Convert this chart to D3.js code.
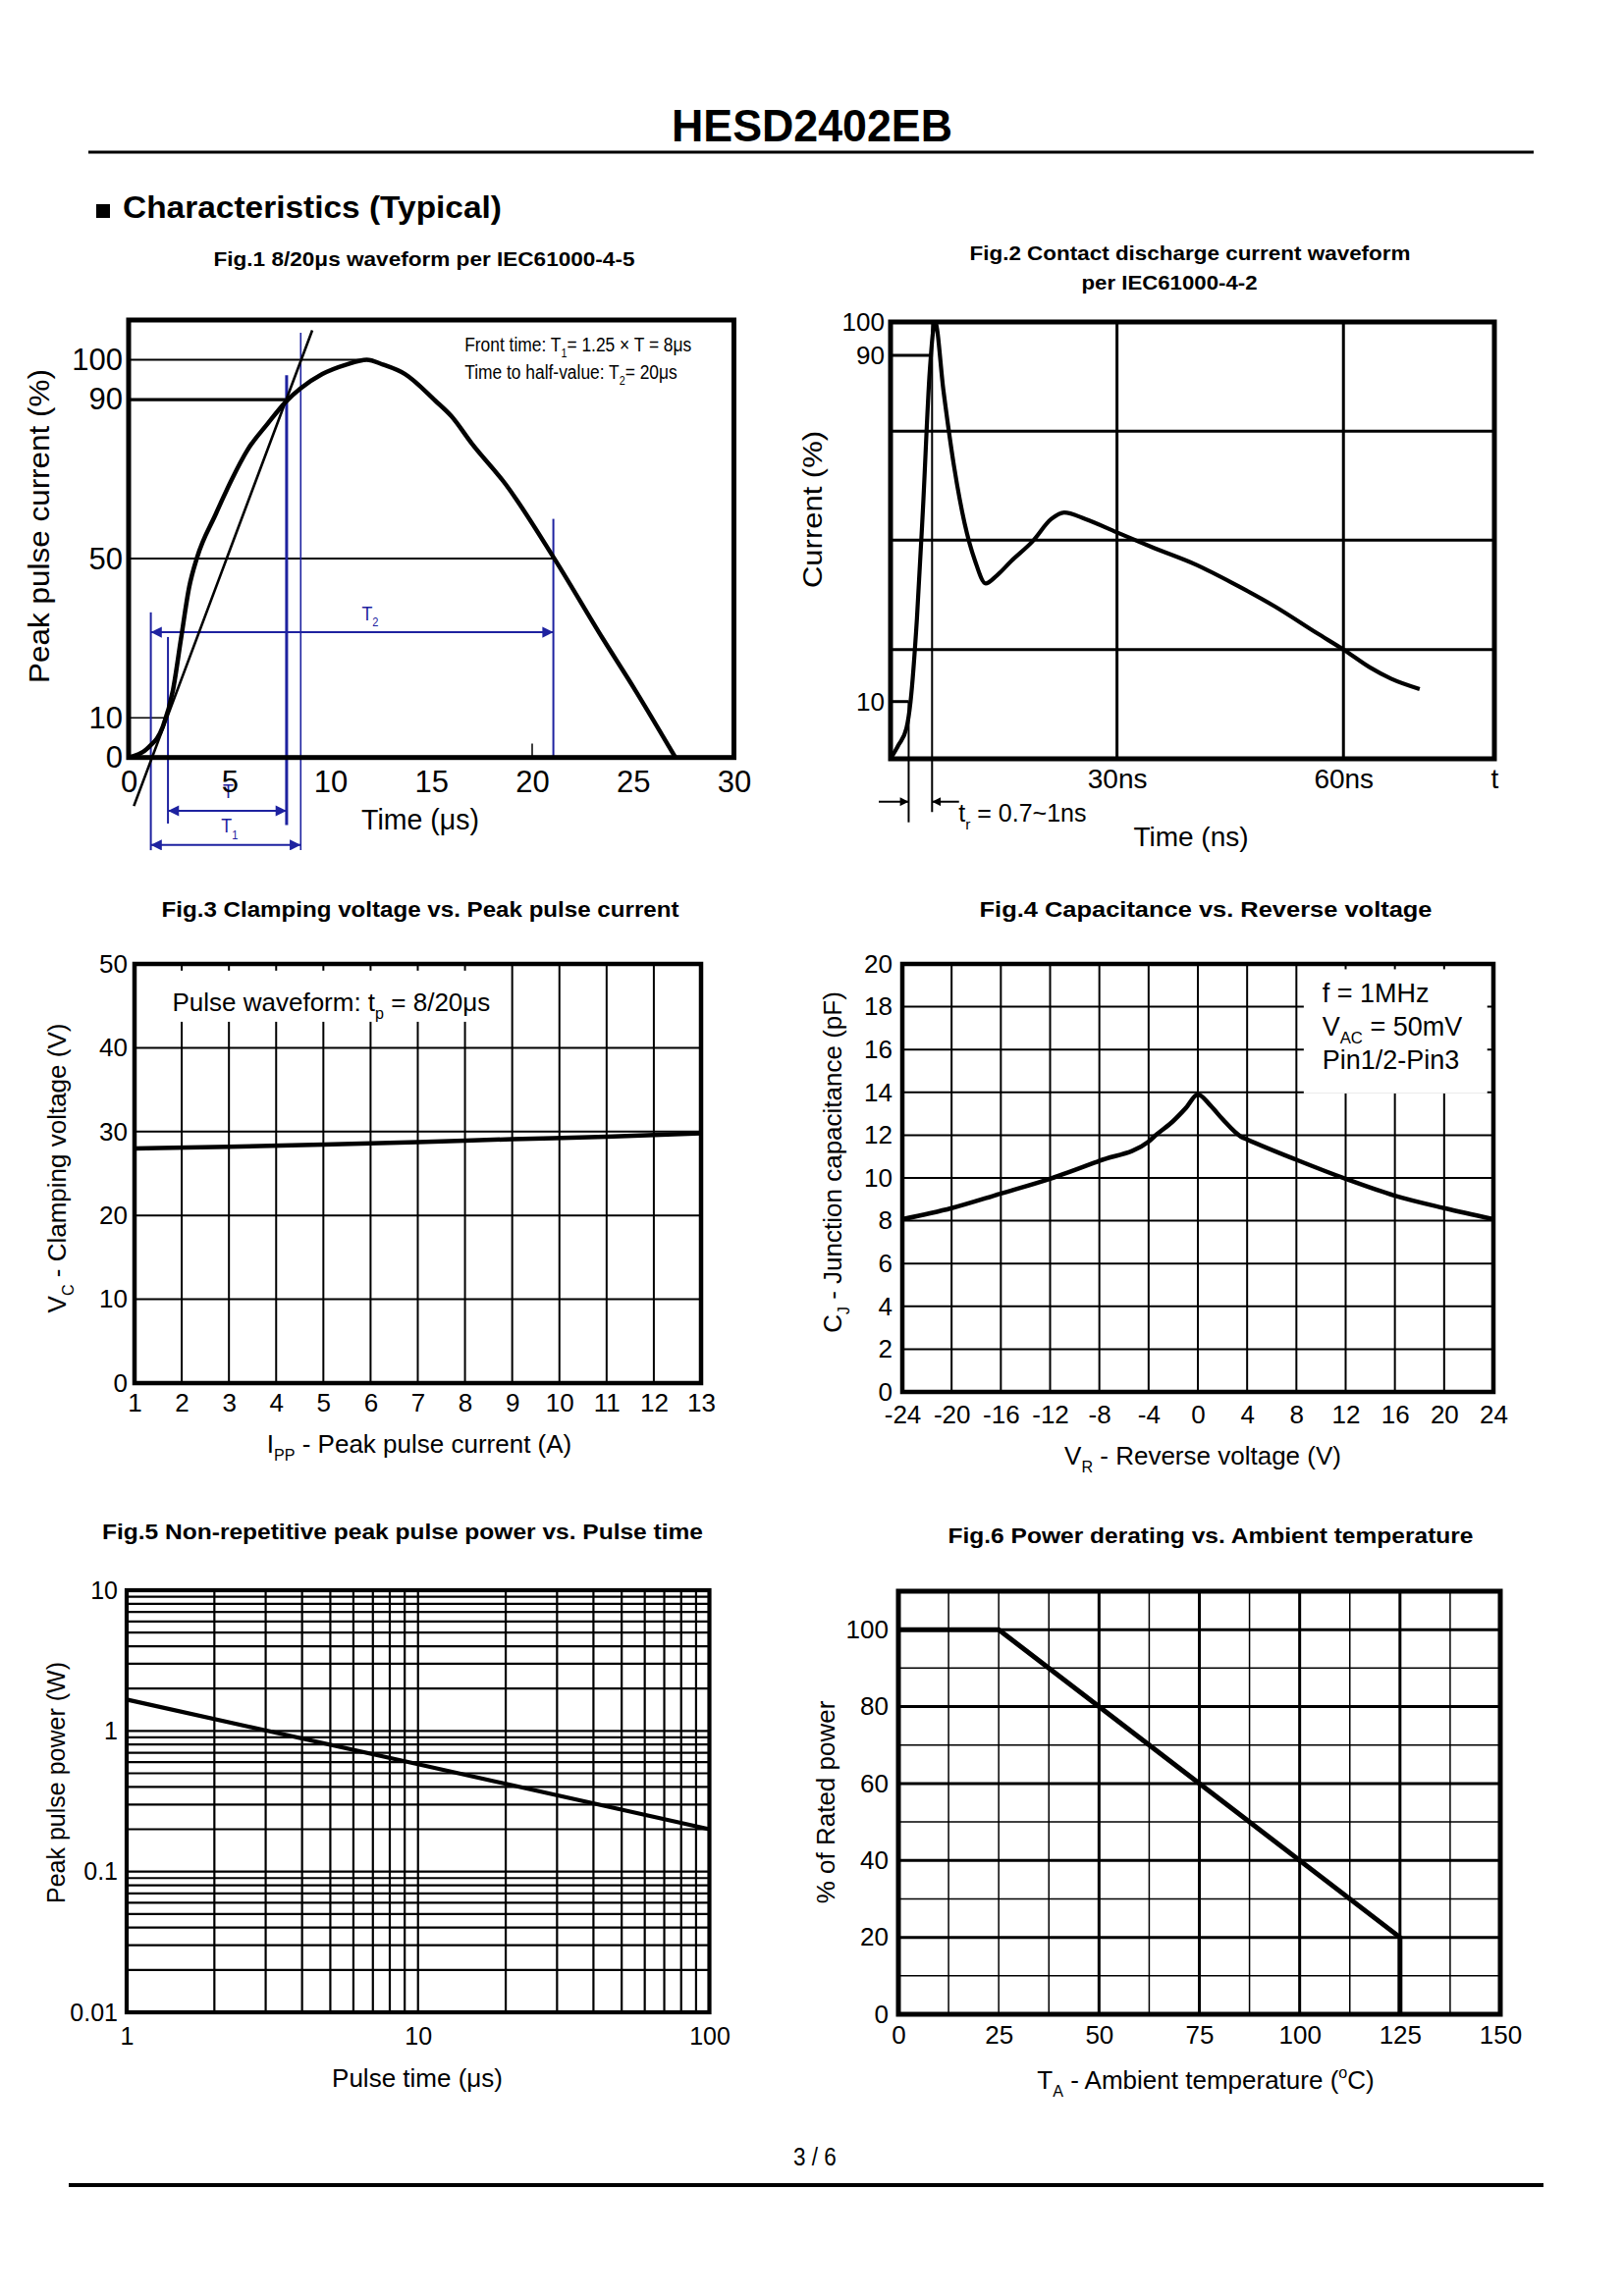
<!DOCTYPE html>
<html>
<head>
<meta charset="utf-8">
<script src="https://cdnjs.cloudflare.com/ajax/libs/d3/7.8.5/d3.min.js"></script>
<style>
body { margin: 0; background: #fff; }
</style>
</head>
<body>
<div id="page"></div>
<script>
// ---------- Fig.1 8/20us waveform ----------
const fig1Time = [0, 1.0, 1.7, 2.2, 2.6, 3.0, 3.4, 4.3, 5.1, 5.9, 6.9, 7.8, 8.5, 9.6, 10.8, 11.8, 12.6, 13.7, 15.2, 16, 17, 18.7, 21.1, 23.5, 25.1, 27.1];
const fig1Current = [0, 2.6, 7.8, 17, 30, 42.8, 50.4, 61, 69.8, 77.4, 84, 89.5, 92.7, 96.4, 98.8, 100, 98.8, 96.4, 89.7, 85.8, 79, 68.6, 50, 29.9, 17, 0];
const fig1XTicks = [0, 5, 10, 15, 20, 25, 30];
const fig1YTicks = [0, 10, 50, 90, 100];
const fig1RefLevel = [100, 90, 50, 10];
const fig1RefEnd = [11.8, 7.8, 21.1, 1.9];
const fig1FrontT = [0.26, 9.1];
const fig1FrontI = [-12.2, 107.4];
const fig1MarkT = [1.1, 1.95, 7.83, 8.53, 21.05];
const fig1MarkTop = [36.5, 30.3, 96.1, 106.8, 60];
const fig1MarkBottom = [-23.3, -16.6, -17, -23.3, 0];
const fig1SpanFrom = [1.1, 1.95, 1.1];
const fig1SpanTo = [21.05, 7.83, 8.53];
const fig1SpanLevel = [31.5, -13.4, -22];
const fig1SpanSub = ["2", "", "1"];
const fig1SpanLabelT = [11.97, 4.94, 5.0];
const fig1SpanLabelI = [34.6, -10.3, -18.9];

// ---------- Fig.2 contact discharge ----------
const fig2Time = [0, 1.05, 2.1, 2.65, 3.5, 4.3, 5.2, 5.9, 7.0, 8.4, 9.8, 11.2, 12.6, 14, 16, 18.8, 21.3, 23, 25.8, 30, 34.9, 40.5, 45.4, 50.9, 56.5, 60.2, 63.5, 66.3, 70.1];
const fig2Current = [0, 2.4, 5.3, 10, 29.3, 54.8, 86.5, 100, 82, 64.5, 51.3, 42.5, 37.3, 39, 42.5, 47, 52.2, 53.7, 52.2, 49.1, 45.5, 41.6, 37.3, 32, 25.8, 21.8, 17.9, 15.3, 12.9];
const fig2YTicks = [10, 90, 100];
const fig2XTicks = [30, 60, 80];
const fig2GridT = [30, 60];
const fig2GridI = [22, 47.3, 72.5];
const fig2LevelI = [90, 10];
const fig2LevelEnd = [5.5, 2.4];
const fig2RiseT = [2.4, 5.5];
const fig2RiseTop = [10, 100];
const fig2RiseBottom = [-11.1, -9.3];

// ---------- Fig.3 clamping voltage ----------
const fig3Ipp = [1, 3, 5, 7, 9, 11, 13];
const fig3Vc = [28.0, 28.2, 28.45, 28.75, 29.1, 29.4, 29.8];
const fig3XTicks = [1, 2, 3, 4, 5, 6, 7, 8, 9, 10, 11, 12, 13];
const fig3YTicks = [0, 10, 20, 30, 40, 50];

// ---------- Fig.4 capacitance ----------
const fig4Vr = [-24, -20, -16, -12, -8, -4, -3.5, -2, -1, 0, 1, 2, 3.5, 4, 8, 12, 16, 20, 24];
const fig4Cj = [8.07, 8.59, 9.27, 9.96, 10.8, 11.7, 11.96, 12.66, 13.25, 13.9, 13.4, 12.75, 11.93, 11.8, 10.85, 9.96, 9.17, 8.59, 8.07];
const fig4XTicks = [-24, -20, -16, -12, -8, -4, 0, 4, 8, 12, 16, 20, 24];
const fig4YTicks = [0, 2, 4, 6, 8, 10, 12, 14, 16, 18, 20];

// ---------- Fig.5 peak pulse power ----------
const fig5Tp = [1, 10, 100];
const fig5Ppk = [1.67, 0.58, 0.2];
const fig5XTicks = [1, 10, 100];
const fig5YTicks = [0.01, 0.1, 1, 10];
const fig5GridT = [2, 3, 4, 5, 6, 7, 8, 9, 10, 20, 30, 40, 50, 60, 70, 80, 90];
const fig5GridP = [0.02, 0.03, 0.04, 0.05, 0.06, 0.07, 0.08, 0.09, 0.1, 0.2, 0.3, 0.4, 0.5, 0.6, 0.7, 0.8, 0.9, 1, 2, 3, 4, 5, 6, 7, 8, 9];

// ---------- Fig.6 power derating ----------
const fig6Ta = [0, 25, 125, 125];
const fig6Pct = [100, 100, 20, 0];
const fig6XTicks = [0, 25, 50, 75, 100, 125, 150];
const fig6YTicks = [0, 20, 40, 60, 80, 100];
const fig6GridT = [12.5, 25, 37.5, 50, 62.5, 75, 87.5, 100, 112.5, 125, 137.5];
const fig6GridP = [10, 20, 30, 40, 50, 60, 70, 80, 90, 100];
const fig6MajorT = [50, 75, 100, 125];
const fig6MajorP = [20, 40, 60, 80, 100];

// ---------- drawing ----------
const F = '"Liberation Sans", Arial, Helvetica, sans-serif';
const FN = '"Liberation Sans Narrow", "Arial Narrow", "Liberation Sans", Arial, sans-serif';
const BLUE = "#1e22a0";

const svg = d3.select("#page").append("svg")
    .attr("width", 1654).attr("height", 2339)
    .attr("font-family", F);
svg.append("rect").attr("width", 1654).attr("height", 2339).attr("fill", "#fff");

const defs = svg.append("defs");
function arrowMarker(id, color, size) {
    defs.append("marker").attr("id", id)
        .attr("viewBox", "0 0 10 10").attr("refX", 10).attr("refY", 5)
        .attr("markerUnits", "userSpaceOnUse")
        .attr("markerWidth", size).attr("markerHeight", size * 0.8)
        .attr("orient", "auto-start-reverse")
        .append("path").attr("d", "M0,0L10,5L0,10Z").attr("fill", color);
}
arrowMarker("arrBlue", BLUE, 14);
arrowMarker("arrBlack", "#000", 11);

// text with sub/superscripts, parts = [[text, kind]]
function rich(sel, parts, size) {
    let off = 0;
    parts.forEach(([t, kind]) => {
        const target = kind === "sub" ? size * 0.3 : kind === "sup" ? -size * 0.42 : 0;
        sel.append("tspan").attr("dy", target - off)
            .attr("font-size", kind ? size * 0.62 : size).text(t);
        off = target;
    });
    return sel;
}

function label(g, x, y, parts, size, opts = {}) {
    let tr = `translate(${x},${y})`;
    if (opts.rotate) tr += " rotate(-90)";
    if (opts.sx) tr += ` scale(${opts.sx},1)`;
    const t = g.append("text")
        .attr("transform", tr)
        .attr("text-anchor", opts.anchor || "middle")
        .attr("font-size", size)
        .attr("font-family", opts.family || F)
        .attr("font-weight", opts.bold ? "bold" : null)
        .attr("fill", opts.color || "#000");
    if (opts.len) t.attr("textLength", opts.len).attr("lengthAdjust", "spacingAndGlyphs");
    rich(t, parts, size);
    return t;
}

function axis(g, gen, tx, ty, size, family) {
    const a = g.append("g").attr("transform", `translate(${tx},${ty})`).call(gen);
    a.select(".domain").remove();
    a.selectAll(".tick line").remove();
    a.attr("font-size", size).attr("font-family", family || F);
    return a;
}

// ends of a (possibly piecewise) scale range
function ends(s) { const r = s.range(); return [r[0], r[r.length - 1]]; }

function frame(g, x, y, w) {
    const [a, b] = ends(x), [c, d] = ends(y);
    g.append("rect").attr("x", Math.min(a, b)).attr("y", Math.min(c, d))
        .attr("width", Math.abs(b - a)).attr("height", Math.abs(c - d))
        .attr("fill", "none").attr("stroke", "#000").attr("stroke-width", w);
}

function vGrid(g, x, y, vals, w) {
    const [y0, y1] = ends(y);
    g.append("g").selectAll("line").data(vals).join("line")
        .attr("x1", d => x(d)).attr("x2", d => x(d))
        .attr("y1", y0).attr("y2", y1)
        .attr("stroke", "#000").attr("stroke-width", typeof w === "function" ? w : () => w);
}
function hGrid(g, x, y, vals, w) {
    const [x0, x1] = ends(x);
    g.append("g").selectAll("line").data(vals).join("line")
        .attr("y1", d => y(d)).attr("y2", d => y(d))
        .attr("x1", x0).attr("x2", x1)
        .attr("stroke", "#000").attr("stroke-width", typeof w === "function" ? w : () => w);
}

function curve(g, x, y, xs, ys, w, c) {
    const pts = xs.map((v, i) => [v, ys[i]]);
    g.append("path").datum(pts)
        .attr("d", d3.line().x(d => x(d[0])).y(d => y(d[1])).curve(c || d3.curveLinear))
        .attr("fill", "none").attr("stroke", "#000").attr("stroke-width", w)
        .attr("stroke-linejoin", "round").attr("stroke-linecap", "butt");
}

const plain = d => String(d);

// ---------- page header / footer ----------
label(svg, 827, 144, [["HESD2402EB"]], 46, { bold: true, len: 286 });
svg.append("line").attr("x1", 90).attr("x2", 1562).attr("y1", 155).attr("y2", 155)
    .attr("stroke", "#000").attr("stroke-width", 3);
svg.append("rect").attr("x", 98).attr("y", 208).attr("width", 14).attr("height", 14).attr("fill", "#000");
label(svg, 125, 222, [["Characteristics (Typical)"]], 32, { bold: true, anchor: "start", len: 386 });
label(svg, 830, 2206, [["3 / 6"]], 25, { sx: 0.9 });
svg.append("line").attr("x1", 70).attr("x2", 1572).attr("y1", 2226).attr("y2", 2226)
    .attr("stroke", "#000").attr("stroke-width", 4);

// ---------- Fig.1 ----------
{
    const g = svg.append("g");
    const x = d3.scaleLinear().domain([0, 30]).range([131, 747.5]);
    const y = d3.scaleLinear().domain([0, 110]).range([771.7, 326]);
    label(g, 432, 271, [["Fig.1 8/20μs waveform per IEC61000-4-5"]], 21, { bold: true, family: FN, len: 429 });

    const refW = [2, 3.2, 2, 1.5];
    g.append("g").selectAll("line").data(fig1RefLevel).join("line")
        .attr("x1", x(0)).attr("x2", (d, i) => x(fig1RefEnd[i]))
        .attr("y1", d => y(d)).attr("y2", d => y(d))
        .attr("stroke", "#000").attr("stroke-width", (d, i) => refW[i]);
    g.append("line").attr("x1", x(20)).attr("x2", x(20)).attr("y1", y(0)).attr("y2", y(3.5))
        .attr("stroke", "#000").attr("stroke-width", 1.5);

    // blue construction lines
    const markW = [2, 2, 3, 1.6, 2];
    g.append("g").selectAll("line").data(fig1MarkT).join("line")
        .attr("x1", d => x(d)).attr("x2", d => x(d))
        .attr("y1", (d, i) => y(fig1MarkTop[i])).attr("y2", (d, i) => y(fig1MarkBottom[i]))
        .attr("stroke", BLUE).attr("stroke-width", (d, i) => markW[i]);
    g.append("g").selectAll("line").data(fig1SpanLevel).join("line")
        .attr("x1", (d, i) => x(fig1SpanFrom[i])).attr("x2", (d, i) => x(fig1SpanTo[i]))
        .attr("y1", d => y(d)).attr("y2", d => y(d))
        .attr("stroke", BLUE).attr("stroke-width", 2)
        .attr("marker-start", "url(#arrBlue)").attr("marker-end", "url(#arrBlue)");
    fig1SpanLevel.forEach((d, i) => {
        const parts = fig1SpanSub[i] ? [["T"], [fig1SpanSub[i], "sub"]] : [["T"]];
        label(g, x(fig1SpanLabelT[i]), y(fig1SpanLabelI[i]), parts, 21, { color: BLUE, sx: 0.85 });
    });

    // front-time tangent and waveform
    g.append("line").attr("x1", x(fig1FrontT[0])).attr("y1", y(fig1FrontI[0]))
        .attr("x2", x(fig1FrontT[1])).attr("y2", y(fig1FrontI[1]))
        .attr("stroke", "#000").attr("stroke-width", 2.6);
    curve(g, x, y, fig1Time, fig1Current, 4.5, d3.curveMonotoneX);

    frame(g, x, y, 5);
    axis(g, d3.axisLeft(y).tickValues(fig1YTicks).tickSize(0).tickPadding(6), x(0), 0, 31, FN);
    axis(g, d3.axisBottom(x).tickValues(fig1XTicks).tickSize(0).tickPadding(13), 0, y(0), 31, FN);

    label(g, x(16.65), y(102), [["Front time: T"], ["1", "sub"], ["= 1.25 × T = 8μs"]], 20, { anchor: "start", sx: 0.87 });
    label(g, x(16.65), y(95.2), [["Time to half-value: T"], ["2", "sub"], ["= 20μs"]], 20, { anchor: "start", sx: 0.87 });
    label(g, 428, 845, [["Time (μs)"]], 30, { sx: 0.95 });
    label(g, 50, 536, [["Peak pulse current (%)"]], 30, { rotate: true, len: 320 });
}

// ---------- Fig.2 ----------
{
    const g = svg.append("g");
    const x = d3.scaleLinear().domain([0, 80]).range([907, 1522]);
    // the original axis is schematic: 10 % and 90 % marks are not evenly spaced
    const y = d3.scaleLinear().domain([0, 10, 90, 100]).range([773, 714.7, 362.1, 328]);
    label(g, 1212, 265, [["Fig.2 Contact discharge current waveform"]], 21, { bold: true, family: FN, len: 449 });
    label(g, 1191, 295, [["per IEC61000-4-2"]], 21, { bold: true, family: FN, len: 179 });

    vGrid(g, x, y, fig2GridT, 3);
    hGrid(g, x, y, fig2GridI, 3);
    g.append("g").selectAll("line").data(fig2LevelI).join("line")
        .attr("x1", x(0)).attr("x2", (d, i) => x(fig2LevelEnd[i]))
        .attr("y1", d => y(d)).attr("y2", d => y(d))
        .attr("stroke", "#000").attr("stroke-width", 3);
    g.append("g").selectAll("line").data(fig2RiseT).join("line")
        .attr("x1", d => x(d)).attr("x2", d => x(d))
        .attr("y1", (d, i) => y(fig2RiseTop[i])).attr("y2", (d, i) => y(fig2RiseBottom[i]))
        .attr("stroke", "#000").attr("stroke-width", 2);
    // rise-time arrows
    g.append("line").attr("x1", x(-1.56)).attr("x2", x(2.4)).attr("y1", y(-7.5)).attr("y2", y(-7.5))
        .attr("stroke", "#000").attr("stroke-width", 2).attr("marker-end", "url(#arrBlack)");
    g.append("line").attr("x1", x(9.07)).attr("x2", x(5.5)).attr("y1", y(-7.5)).attr("y2", y(-7.5))
        .attr("stroke", "#000").attr("stroke-width", 2).attr("marker-end", "url(#arrBlack)");

    curve(g, x, y, fig2Time, fig2Current, 4.2, d3.curveMonotoneX);
    frame(g, x, y, 5);

    axis(g, d3.axisLeft(y).tickValues(fig2YTicks).tickSize(0).tickPadding(6), x(0), 0, 26);
    axis(g, d3.axisBottom(x).tickValues(fig2XTicks).tickSize(0).tickPadding(10)
        .tickFormat(d => d === 80 ? "t" : d + "ns"), 0, y(0), 28);

    label(g, x(9.0), y(-11), [["t"], ["r", "sub"], [" = 0.7~1ns"]], 25, { anchor: "start" });
    label(g, 1213, 862, [["Time (ns)"]], 28);
    label(g, 837, 519, [["Current (%)"]], 28, { rotate: true, len: 160 });
}

// ---------- Fig.3 ----------
{
    const g = svg.append("g");
    const x = d3.scaleLinear().domain([1, 13]).range([137, 714]);
    const y = d3.scaleLinear().domain([0, 50]).range([1409, 982]);
    label(g, 428, 934, [["Fig.3 Clamping voltage vs. Peak pulse current"]], 22, { bold: true, family: FN, len: 527 });

    vGrid(g, x, y, fig3XTicks.slice(1, -1), 2);
    hGrid(g, x, y, fig3YTicks.slice(1, -1), 2);
    g.append("rect").attr("x", x(1)).attr("y", y(49.2))
        .attr("width", x(8.5) - x(1)).attr("height", y(43.1) - y(49.2)).attr("fill", "#fff");
    label(g, x(1.8), y(44.4), [["Pulse waveform: t"], ["p", "sub"], [" = 8/20μs"]], 26, { anchor: "start" });

    curve(g, x, y, fig3Ipp, fig3Vc, 4.5, d3.curveMonotoneX);
    frame(g, x, y, 4.5);
    axis(g, d3.axisLeft(y).tickValues(fig3YTicks).tickSize(0).tickPadding(7), x(1), 0, 26);
    axis(g, d3.axisBottom(x).tickValues(fig3XTicks).tickSize(0).tickPadding(11), 0, y(0), 26);

    label(g, 427, 1480, [["I"], ["PP", "sub"], [" - Peak pulse current (A)"]], 26);
    label(g, 67, 1190, [["V"], ["C", "sub"], [" - Clamping voltage (V)"]], 26, { rotate: true });
}

// ---------- Fig.4 ----------
{
    const g = svg.append("g");
    const x = d3.scaleLinear().domain([-24, 24]).range([919, 1521]);
    const y = d3.scaleLinear().domain([0, 20]).range([1418, 982]);
    label(g, 1228, 934, [["Fig.4  Capacitance vs. Reverse voltage"]], 22, { bold: true, family: FN, len: 461 });

    vGrid(g, x, y, fig4XTicks.slice(1, -1), 2);
    hGrid(g, x, y, fig4YTicks.slice(1, -1), 2);
    g.append("rect").attr("x", x(8.6)).attr("y", y(19.75))
        .attr("width", x(23.5) - x(8.6)).attr("height", y(13.95) - y(19.75)).attr("fill", "#fff");
    label(g, x(10.1), y(18.2), [["f = 1MHz"]], 27, { anchor: "start" });
    label(g, x(10.1), y(16.65), [["V"], ["AC", "sub"], [" = 50mV"]], 27, { anchor: "start" });
    label(g, x(10.1), y(15.1), [["Pin1/2-Pin3"]], 27, { anchor: "start" });

    curve(g, x, y, fig4Vr, fig4Cj, 4.5, d3.curveMonotoneX);
    frame(g, x, y, 4.5);
    axis(g, d3.axisLeft(y).tickValues(fig4YTicks).tickSize(0).tickPadding(10).tickFormat(plain), x(-24), 0, 26);
    axis(g, d3.axisBottom(x).tickValues(fig4XTicks).tickSize(0).tickPadding(14).tickFormat(plain), 0, y(0), 26);

    label(g, 1225, 1492, [["V"], ["R", "sub"], [" - Reverse voltage (V)"]], 26);
    label(g, 857, 1184, [["C"], ["J", "sub"], [" - Junction capacitance (pF)"]], 26, { rotate: true });
}

// ---------- Fig.5 ----------
{
    const g = svg.append("g");
    const x = d3.scaleLog().domain([1, 100]).range([129, 722.5]);
    const y = d3.scaleLog().domain([0.01, 10]).range([2050, 1620]);
    label(g, 410, 1568, [["Fig.5 Non-repetitive peak pulse power vs. Pulse time"]], 22, { bold: true, family: FN, len: 612 });

    vGrid(g, x, y, fig5GridT, 2.2);
    hGrid(g, x, y, fig5GridP, 2.2);
    curve(g, x, y, fig5Tp, fig5Ppk, 4.2);
    frame(g, x, y, 4.2);
    axis(g, d3.axisLeft(y).tickValues(fig5YTicks).tickSize(0).tickPadding(9).tickFormat(plain), x(1), 0, 25);
    axis(g, d3.axisBottom(x).tickValues(fig5XTicks).tickSize(0).tickPadding(15).tickFormat(plain), 0, y(0.01), 25);

    label(g, 425, 2126, [["Pulse time (μs)"]], 26);
    label(g, 66, 1816, [["Peak pulse power (W)"]], 25, { rotate: true });
}

// ---------- Fig.6 ----------
{
    const g = svg.append("g");
    const x = d3.scaleLinear().domain([0, 150]).range([915, 1528]);
    const y = d3.scaleLinear().domain([0, 110]).range([2052, 1621]);
    label(g, 1233, 1572, [["Fig.6 Power derating vs. Ambient temperature"]], 22, { bold: true, family: FN, len: 535 });

    vGrid(g, x, y, fig6GridT, d => fig6MajorT.includes(d) ? 3 : 1.5);
    hGrid(g, x, y, fig6GridP, d => fig6MajorP.includes(d) ? 3 : 1.5);
    g.append("path").datum(fig6Ta.map((v, i) => [v, fig6Pct[i]]))
        .attr("d", d3.line().x(d => x(d[0])).y(d => y(d[1])))
        .attr("fill", "none").attr("stroke", "#000").attr("stroke-width", 5);
    frame(g, x, y, 5);
    axis(g, d3.axisLeft(y).tickValues(fig6YTicks).tickSize(0).tickPadding(10), x(0), 0, 26);
    axis(g, d3.axisBottom(x).tickValues(fig6XTicks).tickSize(0).tickPadding(12), 0, y(0), 26);

    label(g, 1228, 2128, [["T"], ["A", "sub"], [" - Ambient temperature ("], ["o", "sup"], ["C)"]], 26);
    label(g, 850, 1836, [["% of Rated power"]], 26, { rotate: true });
}
</script>
</body>
</html>
